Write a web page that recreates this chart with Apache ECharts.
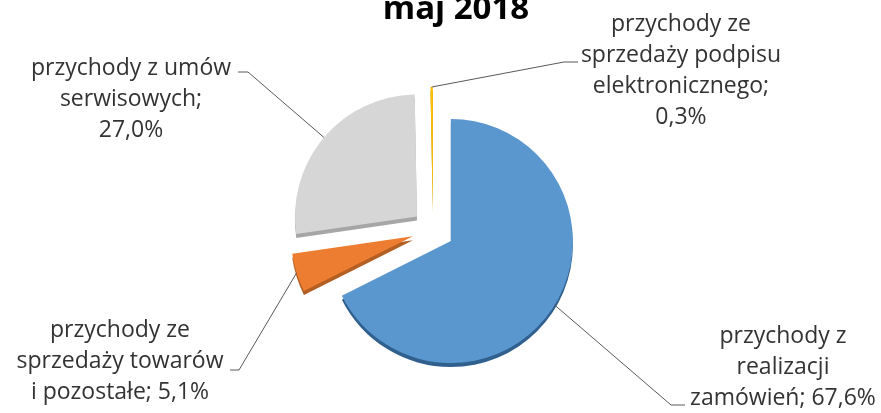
<!DOCTYPE html>
<html>
<head>
<meta charset="utf-8">
<script src="https://cdn.jsdelivr.net/npm/echarts@6/dist/echarts.min.js"></script>
<style>html,body{margin:0;padding:0;background:#fff}#c{width:881px;height:413px}</style>
</head>
<body>
<div id="c"></div>
<script>
const title = 'maj 2018';
const categories = [
  'przychody z\nrealizacji\nzamówień',
  'przychody ze\nsprzedaży towarów\ni pozostałe',
  'przychody z umów\nserwisowych',
  'przychody ze\nsprzedaży podpisu\nelektronicznego'
];
const separators = ['; ', '; ', ';\n', ';\n'];
const values = [67.6, 5.1, 27.0, 0.3];
const colors = ['#5B97CF', '#ED7D31', '#D6D6D6', '#FFC000'];
const sideColors = ['#30608E', '#B35E22', '#A6A6A6', '#BF9000'];

const FONT = 'Open Sans';
const CX = 433, CY = 230, R = 122, OFF = 21, DEPTH = 4;
// label layout: text centre, bend point of leader, end of leader
const labelLayout = [
  {x: 783, y: 367, bend: [671, 405], end: [685, 405]},
  {x: 120, y: 361, bend: [239, 370], end: [230, 370]},
  {x: 131, y: 99,  bend: [248, 72],  end: [238, 72]},
  {x: 681, y: 71,  bend: [564, 62],  end: [578, 62]}
];

const total = values.reduce((a, b) => a + b, 0);
const fmt = v => v.toFixed(1).replace('.', ',') + '%';
const graphics = [];
let acc = 0;
values.forEach((v, i) => {
  const mid = (acc + v / 2) / total * Math.PI * 2;
  acc += v;
  const ax = CX + (R + OFF) * Math.sin(mid);
  const ay = CY - (R + OFF) * Math.cos(mid);
  const L = labelLayout[i];
  graphics.push({
    type: 'polyline', silent: true, z: 10,
    shape: {points: [[ax, ay], L.bend, L.end]},
    style: {stroke: '#595959', lineWidth: 1, fill: null}
  });
  graphics.push({
    type: 'text', silent: true, z: 10, x: L.x, y: L.y,
    style: {
      text: categories[i] + separators[i] + fmt(v),
      fontFamily: FONT, fontSize: 23, lineHeight: 31, fill: '#333333',
      align: 'center', verticalAlign: 'middle'
    }
  });
});

const chart = echarts.init(document.getElementById('c'), null, {renderer: 'canvas'});
const common = {
  type: 'pie',
  radius: R,
  startAngle: 90,
  clockwise: true,
  selectedMode: 'multiple',
  selectedOffset: OFF,
  avoidLabelOverlap: false,
  emphasis: {disabled: true},
  label: {show: false}, labelLine: {show: false},
  animation: false
};
chart.setOption({
  animation: false,
  title: {
    text: title, left: 451, top: -12, textAlign: 'center',
    textStyle: {fontFamily: FONT, fontSize: 33, fontWeight: 'bold', color: '#000'}
  },
  graphic: graphics,
  series: [
    Object.assign({}, common, {
      name: 'side', center: [CX, CY + DEPTH], z: 1, silent: true,
      data: values.map((v, i) => ({value: v, name: categories[i], selected: true,
        itemStyle: {color: sideColors[i]}}))
    }),
    Object.assign({}, common, {
      name: 'top', center: [CX, CY], z: 2,
      data: values.map((v, i) => ({value: v, name: categories[i], selected: true,
        itemStyle: {color: colors[i]}}))
    })
  ]
});
</script>
</body>
</html>
